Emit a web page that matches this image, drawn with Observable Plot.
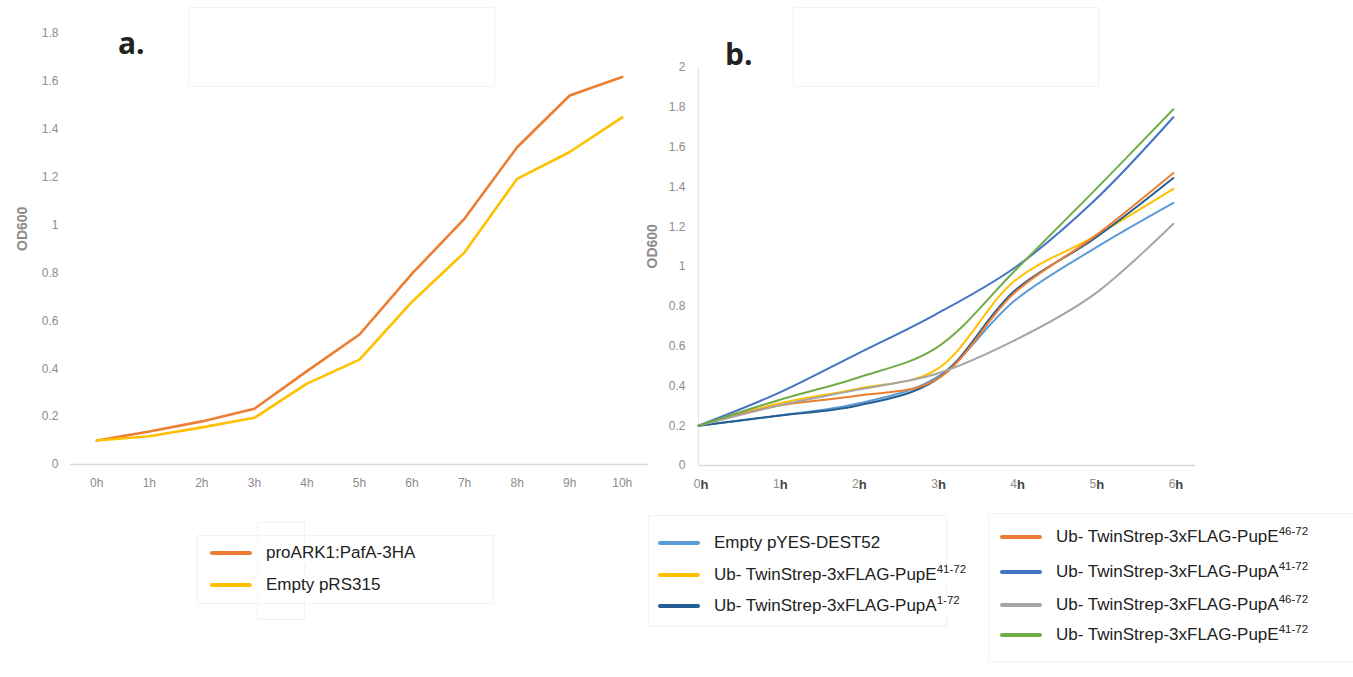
<!DOCTYPE html>
<html><head><meta charset="utf-8">
<script src="https://cdn.jsdelivr.net/npm/d3@7"></script>
<script src="https://cdn.jsdelivr.net/npm/@observablehq/plot@0.6"></script>
<style>
body{margin:0;background:#fff;font-family:"Liberation Sans",Arial,sans-serif;}
#wrap{position:relative;width:1353px;height:677px;overflow:hidden;}
.box{position:absolute;border:1px solid #f2f2f2;}
.panel{position:absolute;font-size:30px;font-weight:bold;color:#222;font-family:"Open Sans","Liberation Sans",sans-serif;}
.leg{position:absolute;display:flex;align-items:center;font-size:17px;color:#222;white-space:nowrap;}
.leg .sw{width:42px;height:4px;border-radius:2px;margin-right:14px;}
sup{font-size:11.5px;vertical-align:7px;line-height:0;}
</style></head>
<body><div id="wrap"></div>
<script>
// ---------- data ----------
const hoursA = [0,1,2,3,4,5,6,7,8,9,10];
const proARK1 = [0.10,0.138,0.18,0.233,0.39,0.543,0.797,1.027,1.325,1.541,1.618];
const emptyRS315 = [0.10,0.118,0.155,0.195,0.338,0.438,0.68,0.886,1.193,1.305,1.45];
const seriesA = ["proARK1:PafA-3HA","Empty pRS315"];
const colorsA = ["#ED7D31","#FFC000"];

const hoursB = [0,1,2,3,4,5,6];
const emptyYES = [0.2,0.25,0.31,0.44,0.83,1.09,1.32];
const pupE41y = [0.2,0.31,0.385,0.48,0.93,1.15,1.39];
const pupA1 = [0.2,0.25,0.30,0.43,0.88,1.14,1.445];
const pupE46 = [0.2,0.30,0.35,0.43,0.87,1.15,1.47];
const pupA41 = [0.2,0.362,0.56,0.76,0.995,1.33,1.75];
const pupA46 = [0.2,0.30,0.38,0.46,0.63,0.86,1.215];
const pupE41g = [0.2,0.327,0.44,0.59,0.98,1.38,1.79];
const seriesB = ["Empty pYES-DEST52","Ub- TwinStrep-3xFLAG-PupE|41-72","Ub- TwinStrep-3xFLAG-PupA|1-72",
  "Ub- TwinStrep-3xFLAG-PupE|46-72","Ub- TwinStrep-3xFLAG-PupA|41-72","Ub- TwinStrep-3xFLAG-PupA|46-72","Ub- TwinStrep-3xFLAG-PupE|41-72 "];
const valuesB = [emptyYES,pupE41y,pupA1,pupE46,pupA41,pupA46,pupE41g];
const colorsB = ["#5B9BD5","#FFC000","#255E91","#ED7D31","#4472C4","#A5A5A5","#70AD47"];

const tickA = [0,0.2,0.4,0.6,0.8,1,1.2,1.4,1.6,1.8];
const tickB = [0,0.2,0.4,0.6,0.8,1,1.2,1.4,1.6,1.8,2];
const fmt = d => String(+d.toFixed(1));

const wrap = document.getElementById("wrap");
function place(el, left, top){ el.style.position="absolute"; el.style.left=left+"px"; el.style.top=top+"px"; wrap.appendChild(el); }

// ---------- panel a ----------
const dataA = [];
seriesA.forEach((s,i)=>{ const v=[proARK1,emptyRS315][i]; hoursA.forEach((h,j)=>dataA.push({s,h,v:v[j]})); });
const plotA = Plot.plot({
  width:660, height:500, marginLeft:70, marginRight:12, marginTop:33, marginBottom:36,
  style:{fontFamily:"Liberation Sans, sans-serif", fontSize:"12px", color:"#8c8c8c", background:"transparent", overflow:"visible"},
  x:{domain:[-0.5,10.5], ticks:hoursA, tickFormat:d=>d+"h", tickSize:0, tickPadding:14, label:null},
  y:{domain:[0,1.8], ticks:tickA, tickFormat:fmt, tickSize:0, tickPadding:12, label:null},
  color:{domain:seriesA, range:colorsA},
  marks:[
    Plot.ruleY([0],{stroke:"#d9d9d9", strokeWidth:1.5}),
    Plot.line(dataA,{x:"h", y:"v", z:"s", stroke:"s", strokeWidth:2.6}),
    Plot.text(["OD600"],{frameAnchor:"left", rotate:-90, dx:-48, dy:2, fontSize:14, fill:"#8c8c8c", fontWeight:"bold"})
  ]
});
place(plotA,0,0);

// ---------- panel b ----------
const dataB = [];
seriesB.forEach((s,i)=>{ hoursB.forEach((h,j)=>dataB.push({s,h,v:valuesB[i][j]})); });
const plotB = Plot.plot({
  width:713, height:500, marginLeft:58, marginRight:158, marginTop:67, marginBottom:35,
  style:{fontFamily:"Liberation Sans, sans-serif", fontSize:"12px", color:"#8c8c8c", background:"transparent", overflow:"visible"},
  x:{domain:[0,6.28], ticks:[], label:null, axis:null},
  y:{domain:[0,2], ticks:tickB, tickFormat:fmt, tickSize:0, tickPadding:13, label:null},
  color:{domain:seriesB, range:colorsB},
  marks:[
    Plot.ruleY([0],{stroke:"#d9d9d9", strokeWidth:1.5}),
    Plot.ruleX([0],{y1:0, y2:2, stroke:"#e6e6e6", strokeWidth:1.2}),
    Plot.line(dataB,{x:"h", y:"v", z:"s", stroke:"s", strokeWidth:2, curve:"catmull-rom"}),
    Plot.text(hoursB,{x:d=>d, y:0, text:d=>String(d), dy:19, dx:2, textAnchor:"end", fill:"#8c8c8c", fontSize:12}),
    Plot.text(hoursB,{x:d=>d, y:0, text:()=>"h", dy:19, dx:2, textAnchor:"start", fill:"#444", fontSize:13, fontWeight:"bold"}),
    Plot.text(["OD600"],{frameAnchor:"left", rotate:-90, dx:-46, dy:2, fontSize:14, fill:"#8c8c8c", fontWeight:"bold"})
  ]
});
place(plotB,640,0);

// ---------- decorations ----------
function box(l,t,w,h){ const d=document.createElement("div"); d.className="box"; d.style.left=l+"px"; d.style.top=t+"px"; d.style.width=w+"px"; d.style.height=h+"px"; wrap.appendChild(d); }
box(188,7,305,78); box(793,7,304,78);
box(257,522,46,96);
box(197,535,295,67); box(648,515,297,110); box(988,513,365,147);

function label(txt,l,t){ const d=document.createElement("div"); d.className="panel"; d.textContent=txt; place(d,l,t); }
label("a.",118,22); label("b.",725,33);

// ---------- legends ----------
function legend(name,color,l,t){
  const d=document.createElement("div"); d.className="leg"; d.style.background="#fff";
  const sw=document.createElement("span"); sw.className="sw"; sw.style.background=color; d.appendChild(sw);
  const tx=document.createElement("span"); const parts=name.trim().split("|");
  tx.textContent=parts[0]; if(parts[1]){ const sp=document.createElement("sup"); sp.textContent=parts[1]; tx.appendChild(sp); }
  d.appendChild(tx); place(d,l,t);
}
legend(seriesA[0],colorsA[0],210,543);
legend(seriesA[1],colorsA[1],210,575);
const posB = [[658,533],[658,565],[658,596],[1000,527],[1000,562],[1000,595],[1000,625]];
seriesB.forEach((s,i)=>legend(s,colorsB[i],posB[i][0],posB[i][1]));
</script></body></html>
